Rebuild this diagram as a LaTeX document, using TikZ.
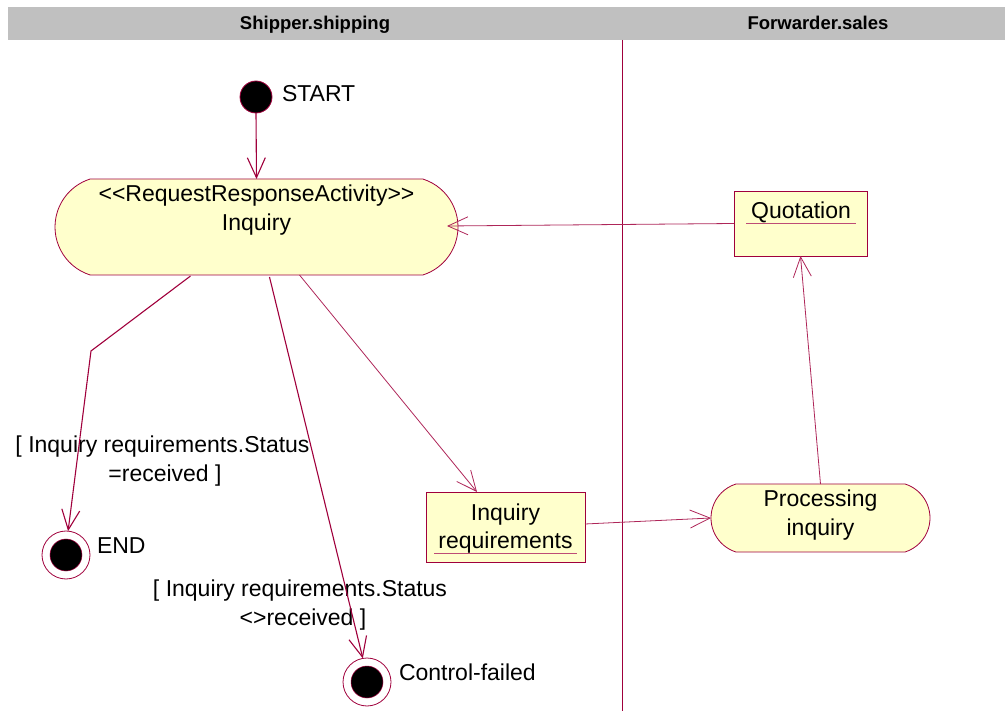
\documentclass[tikz,border=0pt]{standalone}
\usepackage{fontspec}
\setmainfont{Liberation Sans}
\usetikzlibrary{arrows.meta,shapes.misc,calc}
\definecolor{flow}{RGB}{160,0,60}
\definecolor{actfill}{RGB}{255,255,204}
\definecolor{lanebar}{RGB}{192,192,192}
\begin{document}
\begin{tikzpicture}[x=1pt,y=-1pt,
  every node/.style={font=\fontsize{23}{29}\selectfont, inner sep=0pt, outer sep=0pt},
  lanetitle/.style={font=\fontsize{18.5}{22}\selectfont\bfseries, anchor=base},
  txt/.style={anchor=base},
  activity/.style={rounded rectangle, rounded rectangle arc length=145,
    draw=flow, fill=actfill, line width=0.8pt},
  objbox/.style={rectangle, draw=flow, fill=actfill, line width=0.8pt},
  initial/.style={circle, fill=black, draw=flow, minimum size=32pt, line width=0.8pt},
  final/.style={circle, draw=flow, fill=white, minimum size=48pt, line width=0.8pt,
    path picture={\filldraw[fill=black, draw=flow, line width=0.5pt]
      (path picture bounding box.center) circle (16pt);}},
  namerule/.style={draw=flow!70, line width=0.8pt},
  ctrl/.style={draw=flow, line width=1.1pt,
    -{Straight Barb[length=20pt, width=18pt]}},
  obj/.style={draw=flow!85, line width=0.8pt,
    -{Straight Barb[length=20pt, width=18pt]}}
]
\useasboundingbox (0,0) rectangle (1005,711);

% swimlane header and divider
\fill[lanebar] (8,7) rectangle (1005,40);
\node[lanetitle] (laneA) at (315,29.5) {Shipper.shipping};
\node[lanetitle] (laneB) at (818,29.5) {Forwarder.sales};
\coordinate (divtop) at (622,40);
\coordinate (divbot) at (622,711);
\draw[flow, line width=0.9pt] (divtop) -- (divbot);

% initial and final states
\node[initial] (start) at (256,97) {};
\node[txt, anchor=base west] (startlbl) at (282,102) {START};
\node[final] (endnode) at (66,555) {};
\node[txt, anchor=base west] (endlbl) at (97,553) {END};
\node[final] (failnode) at (367,682) {};
\node[txt, anchor=base west] (faillbl) at (399,680) {Control-failed};

% activities
\node[activity, minimum width=403pt, minimum height=96pt] (inq) at (256.5,227) {};
\node[txt] (inqst) at (256.5,202) {<{}<RequestResponseActivity>{}>};
\node[txt] (inqname) at (256.5,231) {Inquiry};

\node[activity, minimum width=219pt, minimum height=68pt] (proc) at (820.5,518) {};
\node[txt] (proc1) at (820.5,507) {Processing};
\node[txt] (proc2) at (820.5,535) {inquiry};

% object nodes
\node[objbox, minimum width=133pt, minimum height=65pt] (quot) at (800.5,223.5) {};
\node[txt] (quotname) at (801,219) {Quotation};
\draw[namerule] ($(quotname.base west)+(-5,4)$) -- ($(quotname.base east)+(5,4)$);

\node[objbox, minimum width=159pt, minimum height=70pt] (req) at (505.5,527) {};
\node[txt] (req1) at (505.5,520) {Inquiry};
\node[txt] (req2) at (505.5,548) {requirements};
\draw[namerule] ($(req2.base west)+(-4,5)$) -- ($(req2.base east)+(4,5)$);

% guards
\node[txt] (g1a) at (162.5,453) {[ Inquiry requirements.Status};
\node[txt] (g1b) at (165,482) {=received ]};
\node[txt] (g2a) at (300,596) {[ Inquiry requirements.Status};
\node[txt] (g2b) at (303,625) {<>received ]};

% flows
\coordinate (bend) at (91,351);
\draw[ctrl] (start.south) -- (inq.north);
\draw[ctrl] ($(inq.south)+(-66,1)$) -- (bend) -- (endnode.85);
\draw[ctrl] ($(inq.south)+(13,2)$) -- (failnode.100);
\draw[obj] ($(inq.south)+(43,0)$) -- ($(req.north west)+(51,0)$);
\draw[obj] ($(req.east)+(0,-3)$) -- (proc.west);
\draw[obj] (proc.north) -- (quot.south);
\draw[obj] (quot.west) -- ($(inq.east)+(-11,-1)$);
\end{tikzpicture}
\end{document}
